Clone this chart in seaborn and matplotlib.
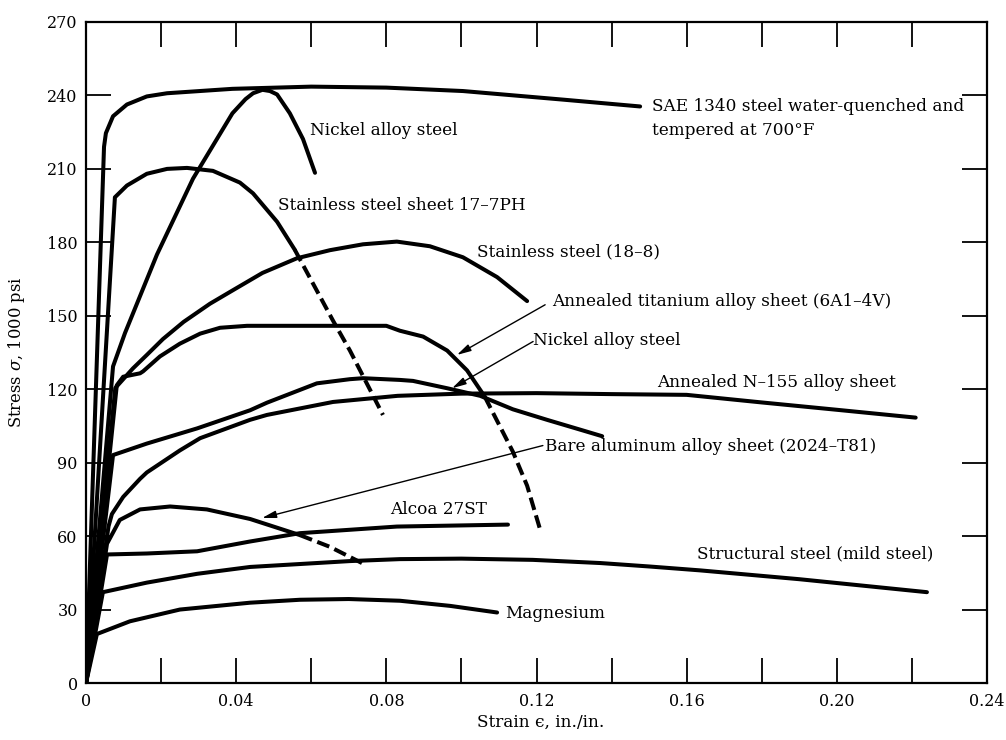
import matplotlib
matplotlib.use("Agg")
import matplotlib.pyplot as plt
import pandas as pd
import seaborn as sns

sns.set_theme(style="white")
plt.rcParams["font.family"] = ["DejaVu Serif"]
plt.rcParams["mathtext.fontset"] = "dejavuserif"

# ---- curves (strain in./in., stress in 1000 psi) ----
sae_strain = [0, 0.0048, 0.0053, 0.0072, 0.0109, 0.0162, 0.0216, 0.039, 0.06, 0.08, 0.1004, 0.127, 0.1476]
sae_stress = [0, 219, 224.6, 231.5, 236.3, 239.6, 240.9, 242.7, 243.6, 243.2, 241.8, 238.3, 235.5]

nickel_hi_strain = [0, 0.0072, 0.0104, 0.0189, 0.0285, 0.039, 0.0425, 0.0445, 0.047, 0.049, 0.0509, 0.0543, 0.0578, 0.061]
nickel_hi_stress = [0, 129.3, 143, 175, 206, 232.7, 238.5, 240.9, 242.3, 241.8, 240.4, 232.7, 222.2, 208.4]

ph17_strain = [0, 0.0077, 0.0109, 0.0162, 0.0216, 0.0269, 0.0338, 0.041, 0.0445, 0.0509, 0.0556]
ph17_stress = [0, 198.4, 203.2, 208, 210, 210.4, 209.2, 204.4, 200, 188.4, 177]
ph17_dash_strain = [0.0556, 0.0658, 0.0703, 0.0791]
ph17_dash_stress = [177, 148, 135.8, 109.5]

ss188_strain = [0, 0.0078, 0.0125, 0.0162, 0.0205, 0.026, 0.033, 0.0392, 0.047, 0.0562, 0.065, 0.0738, 0.0828, 0.0916, 0.1004, 0.1095, 0.1175]
ss188_stress = [0, 120.5, 128.5, 134, 140.5, 147.5, 154.9, 160.5, 167.5, 173.5, 176.8, 179.2, 180.3, 178.4, 173.9, 165.8, 156]

ti_strain = [0, 0.0082, 0.0099, 0.0144, 0.0152, 0.0197, 0.025, 0.0304, 0.0357, 0.0429, 0.08, 0.0836, 0.0898, 0.0962, 0.1015, 0.1062]
ti_stress = [0, 121.6, 125.1, 126.5, 127.3, 133.4, 138.6, 142.7, 145.1, 145.9, 145.9, 143.9, 141.5, 135.8, 127.7, 117]
ti_dash_strain = [0.1062, 0.1137, 0.1175, 0.121]
ti_dash_stress = [117, 94.5, 80.6, 62.5]

nickel_lo_strain = [0, 0.0072, 0.0162, 0.0296, 0.0437, 0.0482, 0.0615, 0.0703, 0.0738, 0.0836, 0.0871, 0.0962, 0.105, 0.1137, 0.1228, 0.1316, 0.1375]
nickel_lo_stress = [0, 93.1, 97.8, 104, 111.4, 114.5, 122.4, 124.1, 124.5, 123.8, 123.4, 120.4, 117.3, 111.8, 107.5, 103.5, 100.8]

n155_strain = [0, 0.006, 0.0069, 0.0099, 0.0144, 0.0162, 0.025, 0.0304, 0.0437, 0.0482, 0.0658, 0.083, 0.1, 0.12, 0.14, 0.16, 0.18, 0.2, 0.221]
n155_stress = [0, 64, 69, 76, 83.4, 86, 95, 100, 107.5, 109.5, 114.8, 117.3, 118.2, 118.4, 118, 117.7, 114.6, 111.6, 108.4]

al2024_strain = [0, 0.0056, 0.009, 0.0144, 0.0224, 0.0322, 0.0437, 0.057]
al2024_stress = [0, 56.9, 66.6, 70.9, 72.1, 70.9, 67, 60.4]
al2024_dash_strain = [0.057, 0.065, 0.0735]
al2024_dash_stress = [60.4, 55.6, 49]

alcoa_strain = [0, 0.0056, 0.0162, 0.0296, 0.0437, 0.057, 0.0828, 0.1124]
alcoa_stress = [0, 52.5, 52.9, 53.8, 57.8, 61.2, 63.9, 64.7]

mild_strain = [0, 0.0045, 0.0162, 0.0296, 0.0437, 0.057, 0.0703, 0.0836, 0.1, 0.119, 0.137, 0.15, 0.1636, 0.19, 0.224]
mild_stress = [0, 37.1, 41, 44.6, 47.4, 48.6, 49.8, 50.6, 50.8, 50.3, 49, 47.6, 46, 42.4, 37.1]

mg_strain = [0, 0.0029, 0.0117, 0.025, 0.0437, 0.057, 0.07, 0.0836, 0.097, 0.1095]
mg_stress = [0, 20, 25.2, 30, 32.8, 34, 34.3, 33.6, 31.5, 28.8]

curves = [
    ("SAE 1340", sae_strain, sae_stress, False),
    ("Nickel alloy steel (hi)", nickel_hi_strain, nickel_hi_stress, False),
    ("17-7PH", ph17_strain, ph17_stress, False),
    ("17-7PH dash", ph17_dash_strain, ph17_dash_stress, True),
    ("18-8", ss188_strain, ss188_stress, False),
    ("Titanium", ti_strain, ti_stress, False),
    ("Titanium dash", ti_dash_strain, ti_dash_stress, True),
    ("Nickel alloy steel (lo)", nickel_lo_strain, nickel_lo_stress, False),
    ("N-155", n155_strain, n155_stress, False),
    ("2024-T81", al2024_strain, al2024_stress, False),
    ("2024-T81 dash", al2024_dash_strain, al2024_dash_stress, True),
    ("Alcoa 27ST", alcoa_strain, alcoa_stress, False),
    ("Mild steel", mild_strain, mild_stress, False),
    ("Magnesium", mg_strain, mg_stress, False),
]

# labels: (text, strain, stress)
labels = [
    ("Nickel alloy steel", 0.0597, 225.8),
    ("SAE 1340 steel water-quenched and", 0.1508, 235.3),
    ("tempered at 700°F", 0.1508, 225.8),
    ("Stainless steel sheet 17–7PH", 0.0511, 195.2),
    ("Stainless steel (18–8)", 0.1042, 176.0),
    ("Annealed titanium alloy sheet (6A1–4V)", 0.1241, 155.7),
    ("Nickel alloy steel", 0.1191, 139.9),
    ("Annealed N–155 alloy sheet", 0.1521, 122.8),
    ("Bare aluminum alloy sheet (2024–T81)", 0.1223, 96.6),
    ("Alcoa 27ST", 0.0810, 70.9),
    ("Structural steel (mild steel)", 0.1628, 52.9),
    ("Magnesium", 0.1116, 28.4),
]

# leader arrows: (tail strain, tail stress, head strain, head stress)
arrows = [
    (0.1223, 154.5, 0.0988, 134.0),
    (0.1191, 139.5, 0.0975, 120.4),
    (0.1217, 97.0, 0.0469, 67.4),
]

x_major = [0, 0.04, 0.08, 0.12, 0.16, 0.20, 0.24]
x_major_labels = ["0", "0.04", "0.08", "0.12", "0.16", "0.20", "0.24"]
x_minor = [0.02, 0.06, 0.10, 0.14, 0.18, 0.22]
y_major = [0, 30, 60, 90, 120, 150, 180, 210, 240, 270]

# ---- drawing ----
fig = plt.figure(figsize=(10.06, 7.40), dpi=100)
ax = fig.add_axes([86 / 1006, 1 - 683 / 740, 901 / 1006, 661 / 740])

rows = []
for name, xs, ys, dashed in curves:
    for i, (x, y) in enumerate(zip(xs, ys)):
        rows.append({"curve": name, "order": i, "strain": x, "stress": y, "dashed": dashed})
df = pd.DataFrame(rows)

for name, grp in df.groupby("curve", sort=False):
    dashed = grp["dashed"].iloc[0]
    sns.lineplot(data=grp, x="strain", y="stress", sort=False, estimator=None,
                 color="black", linewidth=2.9, ax=ax,
                 linestyle=(0, (3.2, 1.4)) if dashed else "-")

for text, x, y in labels:
    ax.text(x, y, text, ha="left", va="center", fontsize=12.2, color="black")

for tx, ty, hx, hy in arrows:
    ax.annotate("", xy=(hx, hy), xytext=(tx, ty),
                arrowprops=dict(arrowstyle="-|>,head_length=0.7,head_width=0.18",
                                lw=1.0, color="black", shrinkA=0, shrinkB=0))

ax.set_xlim(0, 0.24)
ax.set_ylim(0, 270)
ax.set_xticks(x_major)
ax.set_xticklabels(x_major_labels)
ax.set_xticks(x_minor, minor=True)
ax.set_yticks(y_major)
ax.set_yticklabels([str(v) for v in y_major])
ax.tick_params(which="both", direction="in", length=18, width=1.3,
               bottom=True, left=True, top=True, right=True,
               colors="black", labelsize=11.5)
ax.tick_params(axis="x", pad=7)
ax.tick_params(axis="y", pad=6)
for sp in ax.spines.values():
    sp.set_linewidth(1.6)
    sp.set_color("black")

ax.set_xlabel("Strain ϵ, in./in.", fontsize=12.2, color="black")
ax.set_ylabel(r"Stress $\sigma$, 1000 psi", fontsize=11.8, color="black")
ax.xaxis.set_label_coords(0.505, -0.047)
ax.yaxis.set_label_coords(-0.066, 0.5)
ax.grid(False)

fig.savefig("out.png", dpi=100, facecolor="white")
